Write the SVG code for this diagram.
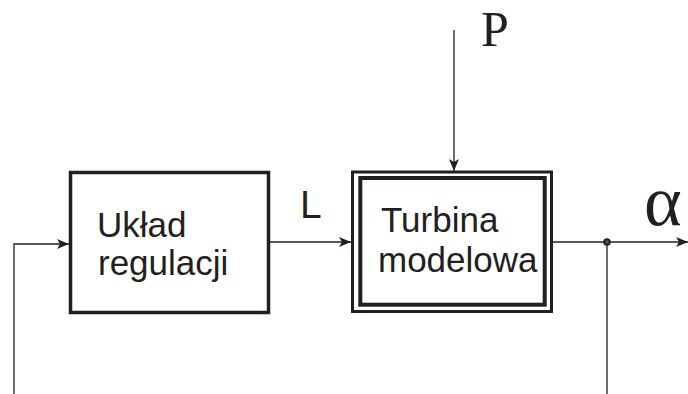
<svg xmlns="http://www.w3.org/2000/svg" width="688" height="394" viewBox="0 0 688 394">
<style>
.box{fill:none;stroke:#231f20;}
.ln{fill:none;stroke:#231f20;stroke-width:1.3;}
.t{font-family:"Liberation Sans",Arial,sans-serif;font-size:35px;fill:#231f20;}
.s{font-family:"Liberation Serif","Times New Roman",serif;fill:#231f20;}
</style>
<defs>
<marker id="ah" markerWidth="12" markerHeight="10" refX="12" refY="5" orient="auto" markerUnits="userSpaceOnUse">
<path d="M0,0 L12,5 L0,10 L3,5 Z" fill="#231f20"/>
</marker>
</defs>
<rect width="688" height="394" fill="#fff"/>
<g id="uklad">
<rect class="box" x="70.5" y="172.5" width="198" height="140" stroke-width="3.5"/>
<text class="t" x="97" y="237">Układ</text>
<text class="t" x="98" y="275">regulacji</text>
</g>
<g id="turbina">
<rect class="box" x="352.5" y="172" width="199" height="139.5" stroke-width="3"/>
<rect class="box" x="360.3" y="178" width="184.4" height="126.7" stroke-width="4"/>
<text class="t" x="381" y="232">Turbina</text>
<text class="t" x="378" y="272">modelowa</text>
</g>
<g id="labels">
<text class="t" x="300" y="218" style="font-size:39px">L</text>
<text class="s" x="481" y="46" style="font-size:50px">P</text>
<text class="s" x="644" y="225" style="font-size:72px">α</text>
</g>
<g id="connectors">
<path class="ln" d="M14,394 V244 H69" marker-end="url(#ah)"/>
<path class="ln" d="M268.5,242 H351" marker-end="url(#ah)"/>
<path class="ln" d="M454,30 V171" marker-end="url(#ah)"/>
<path class="ln" d="M553,242 H688" marker-end="url(#ah)"/>
<path class="ln" d="M607,242 V394"/>
<circle cx="607" cy="242" r="2.8" fill="#555" stroke="#231f20" stroke-width="2"/>
</g>
</svg>
